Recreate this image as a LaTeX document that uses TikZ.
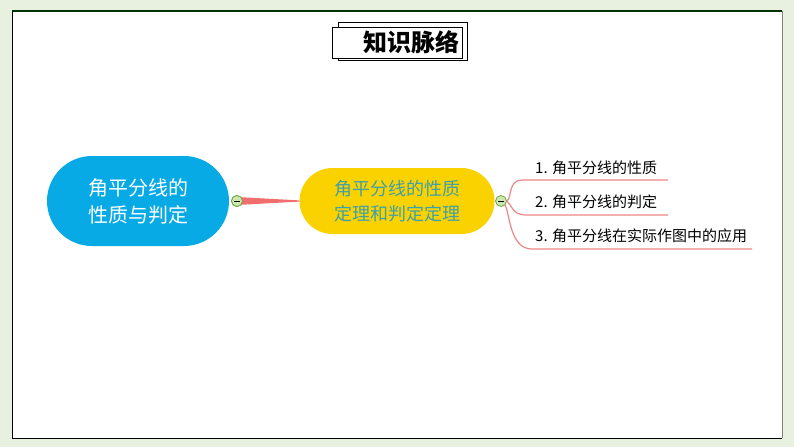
\documentclass[tikz,border=0pt]{standalone}
\usepackage{fontspec}
\setmainfont{Noto Sans CJK SC}
\usetikzlibrary{positioning,shapes.misc}
\definecolor{bggreen}{RGB}{232,241,223}
\definecolor{topicblue}{RGB}{8,170,230}
\definecolor{subyellow}{RGB}{250,210,0}
\definecolor{subtext}{RGB}{62,160,172}
\definecolor{linkred}{RGB}{240,110,110}
\definecolor{branchred}{RGB}{236,135,135}
\definecolor{knobfill}{RGB}{205,232,175}
\definecolor{knobline}{RGB}{110,165,70}

\tikzset{
  pill/.style={rounded rectangle,inner sep=0pt,align=center},
  knob/.style={circle,draw=knobline,fill=knobfill,line width=0.8pt,minimum size=11pt,inner sep=0pt},
  branch/.style={draw=branchred,line width=1.2pt},
  leaf/.style={anchor=west,inner sep=0pt,font=\fontsize{15}{16}\selectfont}
}

\begin{document}
\begin{tikzpicture}[x=1pt,y=-1pt]
% page and frame
\fill[bggreen] (0,0) rectangle (794,447);
\fill[white] (12,11) rectangle (782,438);
\draw[black!80!green,line width=1.6pt] (12,11) -- (782,11);
\draw[black,line width=1pt] (12,11) -- (12,438) -- (782,438);
\draw[gray,line width=1pt] (782,11) -- (782,438);

% title
\draw[line width=0.8pt] (338,22) rectangle (467,60);
\draw[line width=0.8pt,fill=white] (332,27) rectangle (462,58);
\node[font=\bfseries\fontsize{24}{26}\selectfont] (title) at (411,42) {知识脉络};

% nodes
\node[pill,fill=topicblue,text=white,minimum width=182pt,minimum height=90pt,
  font=\fontsize{20}{27}\selectfont] (topic) at (138,201) {角平分线的\\性质与判定};
\node[pill,fill=subyellow,text=subtext,minimum width=195pt,minimum height=66pt,
  font=\fontsize{18}{25}\selectfont] (sub) at (397,201) {角平分线的性质\\定理和判定定理};
\node[knob] (k1) at (237,201) {};
\node[knob] (k2) at (501,201) {};

% tapered link
\fill[linkred] ([yshift=4pt]k1.center) -- ([yshift=0.6pt]sub.west) -- ([yshift=-0.6pt]sub.west)
  -- ([yshift=-4pt]k1.center) -- cycle;
\node[knob] at (k1) {};
\draw[line width=1pt] ([xshift=-3pt]k1.center) -- ([xshift=3pt]k1.center);
\draw[line width=1pt] ([xshift=-3pt]k2.center) -- ([xshift=3pt]k2.center);

% branches
\coordinate (s1) at (522,180); \coordinate (e1) at (668,180);
\coordinate (s2) at (526,215); \coordinate (e2) at (668,215);
\coordinate (s3) at (532,249); \coordinate (e3) at (752,249);
\draw[branch] (k2.east) .. controls (512,198) and (508,180) .. (s1) -- (e1);
\draw[branch] (k2.east) .. controls (512,205) and (512,215) .. (s2) -- (e2);
\draw[branch] (k2.south east) .. controls (510,215) and (510,249) .. (s3) -- (e3);

\foreach \n/\y/\t in {b1/168/{1. 角平分线的性质},b2/202/{2. 角平分线的判定},b3/236/{3. 角平分线在实际作图中的应用}}
	\node[leaf] (\n) at (535,\y) {\t};
\end{tikzpicture}
\end{document}
